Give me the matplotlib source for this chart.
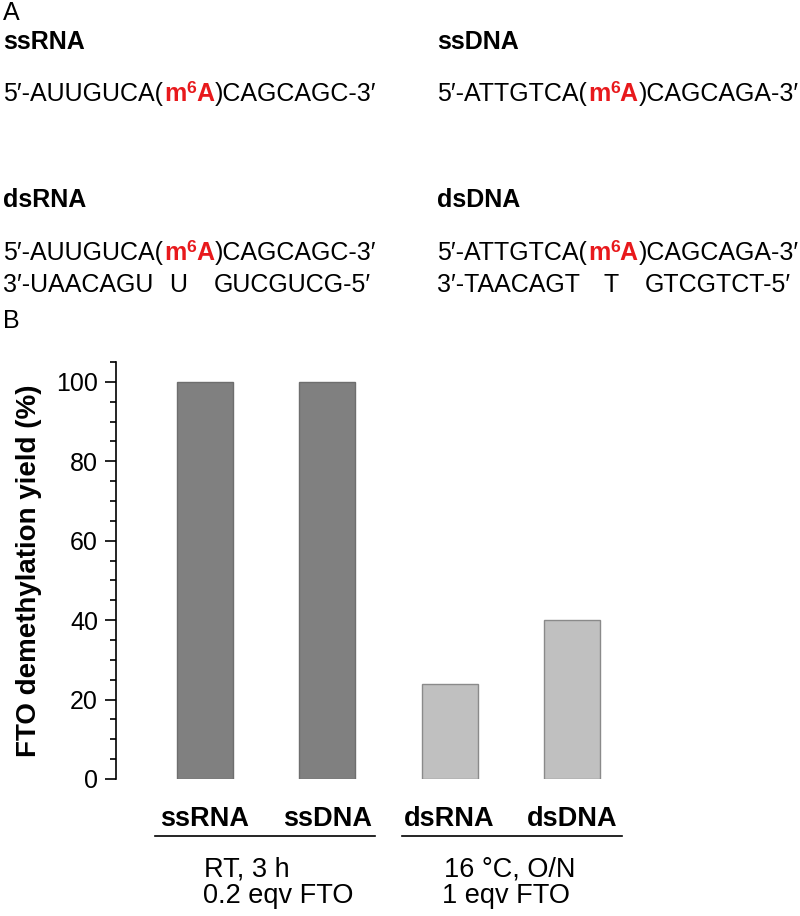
import matplotlib.pyplot as plt
from matplotlib.transforms import blended_transform_factory

plt.rcParams['font.family'] = ['Liberation Sans', 'DejaVu Sans']

categories = ['ssRNA', 'ssDNA', 'dsRNA', 'dsDNA']
yields = [100, 100, 24, 40]
bar_colors = ['#808080', '#808080', '#c0c0c0', '#c0c0c0']
edge_colors = ['#6e6e6e', '#6e6e6e', '#8a8a8a', '#8a8a8a']
conditions = [('RT, 3 h', '0.2 eqv FTO'), ('16 \u00b0C, O/N', '1 eqv FTO')]

seq_rna_top = ('5\u2032-AUUGUCA(', ')CAGCAGC-3\u2032')
seq_dna_top = ('5\u2032-ATTGTCA(', ')CAGCAGA-3\u2032')
seq_rna_bot = ('3\u2032-UAACAGU', 'U', 'GUCGUCG-5\u2032')
seq_dna_bot = ('3\u2032-TAACAGT', 'T', 'GTCGTCT-5\u2032')

W, H = 800, 916
fig = plt.figure(figsize=(8, 9.16), dpi=100)
renderer = fig.canvas.get_renderer()

FS_SEQ = 18
FS_HEAD = 18
RED = '#e8191c'


def px(x, y):
    return x / W, 1 - y / H


def put(x, y, s, **kw):
    # place text at pixel x (left) and baseline y, return right edge in pixels
    t = fig.text(*px(x, y), s, va='baseline', ha='left', **kw)
    bb = t.get_window_extent(renderer)
    return bb.x1


def seq_line(x, y, parts):
    x = put(x, y, parts[0], fontsize=FS_SEQ)
    x = put(x + 1, y, 'm', fontsize=FS_SEQ, color=RED, fontweight='bold')
    x = put(x, y - 8, '6', fontsize=FS_SEQ * 0.7, color=RED, fontweight='bold')
    x = put(x, y, 'A', fontsize=FS_SEQ, color=RED, fontweight='bold')
    put(x + 1, y, parts[1], fontsize=FS_SEQ)


def bottom_line(x, y, parts, xs):
    put(x, y, parts[0], fontsize=FS_SEQ)
    put(xs[0], y, parts[1], fontsize=FS_SEQ)
    put(xs[1], y, parts[2], fontsize=FS_SEQ)


put(3, 20, 'A', fontsize=18)
put(3, 49, 'ssRNA', fontsize=FS_HEAD, fontweight='bold')
put(437, 49, 'ssDNA', fontsize=FS_HEAD, fontweight='bold')
put(3, 207, 'dsRNA', fontsize=FS_HEAD, fontweight='bold')
put(437, 207, 'dsDNA', fontsize=FS_HEAD, fontweight='bold')
put(3, 328, 'B', fontsize=18)

seq_line(3, 101, seq_rna_top)
seq_line(437, 101, seq_dna_top)
seq_line(3, 260, seq_rna_top)
seq_line(437, 260, seq_dna_top)
bottom_line(3, 292, seq_rna_bot, (169, 214))
bottom_line(437, 292, seq_dna_bot, (603, 645))

ax = fig.add_axes([116 / W, (H - 779) / H, (640 - 116) / W, (779 - 362) / H])

x = range(len(categories))
ax.bar(x, yields, width=0.46, color=bar_colors, edgecolor=edge_colors, linewidth=1)
ax.set_xlim(-0.728, 3.556)
ax.set_ylim(0, 105)
ax.set_yticks([0, 20, 40, 60, 80, 100])
ax.set_yticks(range(0, 106, 5), minor=True)
ax.tick_params(axis='y', which='major', length=8, width=1.2, labelsize=18, pad=5)
ax.tick_params(axis='y', which='minor', length=4, width=1.2)
ax.set_xticks([])
for s in ['top', 'right', 'bottom']:
    ax.spines[s].set_visible(False)
ax.spines['left'].set_linewidth(1.2)
ax.set_ylabel('FTO demethylation yield (%)', fontsize=20, fontweight='bold', labelpad=10)

tr = blended_transform_factory(ax.transData, ax.transAxes)
for i, c in enumerate(categories):
    ax.text(i, -0.096, c, transform=tr, ha='center', va='center', fontsize=19.5,
            fontweight='bold')
ax.plot([-0.409, 1.39], [-0.137, -0.137], transform=tr, color='black', lw=1.2,
        clip_on=False)
ax.plot([1.61, 3.41], [-0.137, -0.137], transform=tr, color='black', lw=1.2,
        clip_on=False)
for x0, (l1, l2) in zip([-0.005, 1.95], conditions):
    ax.text(x0, -0.216, l1, transform=tr, ha='left', va='center', fontsize=19.5)
    ax.text(x0 - 0.01, -0.281, l2, transform=tr, ha='left', va='center', fontsize=19.5)

fig.savefig('out.png', dpi=100)
